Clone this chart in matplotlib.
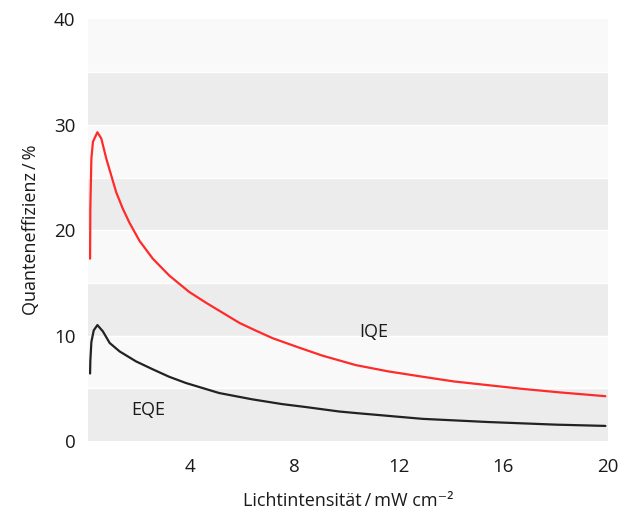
import matplotlib
matplotlib.use("Agg")
import matplotlib.pyplot as plt

plt.rcParams['font.family'] = ['Open Sans', 'DejaVu Sans']

# Light intensity (mW cm^-2) and quantum efficiency (%)
iqe_x = [0.18, 0.19, 0.23, 0.29, 0.46, 0.61, 0.8, 0.99, 1.18, 1.44, 1.69, 2.07, 2.58,
         3.21, 3.97, 4.63, 5.9, 6.5, 7.17, 8.19, 9.07, 10.35, 11.6, 12.9, 14.1, 15.4,
         16.7, 18.2, 19.9]
iqe_y = [17.3, 22.1, 26.8, 28.4, 29.3, 28.7, 26.8, 25.2, 23.6, 22.0, 20.7, 19.0, 17.3,
         15.7, 14.15, 13.1, 11.2, 10.5, 9.75, 8.85, 8.1, 7.2, 6.6, 6.1, 5.65, 5.3,
         4.95, 4.6, 4.25]

eqe_x = [0.18, 0.19, 0.23, 0.32, 0.46, 0.67, 0.93, 1.31, 1.94, 2.58, 3.2, 3.85, 5.12,
         6.39, 7.53, 8.5, 9.7, 10.35, 12.9, 15.4, 18.0, 19.9]
eqe_y = [6.4, 7.6, 9.4, 10.5, 11.0, 10.4, 9.3, 8.5, 7.55, 6.8, 6.1, 5.5, 4.55,
         3.95, 3.5, 3.2, 2.8, 2.65, 2.1, 1.8, 1.55, 1.43]

x_ticks = [4, 8, 12, 16, 20]
y_ticks = [0, 10, 20, 30, 40]

fig = plt.figure(figsize=(6.33, 5.13), dpi=100)
ax = fig.add_axes([0.139, 0.1404, 0.8215, 0.8216])

# Alternating horizontal bands every 5 %
for lo in range(0, 40, 5):
    shade = '#ececec' if (lo // 5) % 2 == 0 else '#f9f9f9'
    ax.axhspan(lo, lo + 5, color=shade, lw=0, zorder=0)
for b in range(5, 40, 5):
    ax.axhline(b, color='white', lw=1.0, zorder=0.5)

ax.plot(iqe_x, iqe_y, color='#ff2a2a', lw=1.6, zorder=3,
        solid_joinstyle='round', solid_capstyle='round')
ax.plot(eqe_x, eqe_y, color='#222222', lw=1.6, zorder=3,
        solid_joinstyle='round', solid_capstyle='round')

ax.text(11.05, 10.3, 'IQE', fontsize=13, ha='center', va='center', color='#1a1a1a')
ax.text(2.4, 2.9, 'EQE', fontsize=13, ha='center', va='center', color='#1a1a1a')

ax.set_xlim(0.1, 19.9)
ax.set_ylim(0, 40)
ax.set_xticks(x_ticks)
ax.set_yticks(y_ticks)
ax.tick_params(length=0, labelsize=13.5, colors='#1a1a1a', pad=9)
ax.tick_params(axis='x', pad=12)
for s in ax.spines.values():
    s.set_visible(False)

ax.set_xlabel('Lichtintensität\u2009/\u2009mW cm\u207b\u00b2', fontsize=13,
              color='#1a1a1a', labelpad=12)
ax.set_ylabel('Quanteneffizienz\u2009/\u2009%', fontsize=13, color='#1a1a1a', labelpad=10)

fig.savefig('out.png', dpi=100)
